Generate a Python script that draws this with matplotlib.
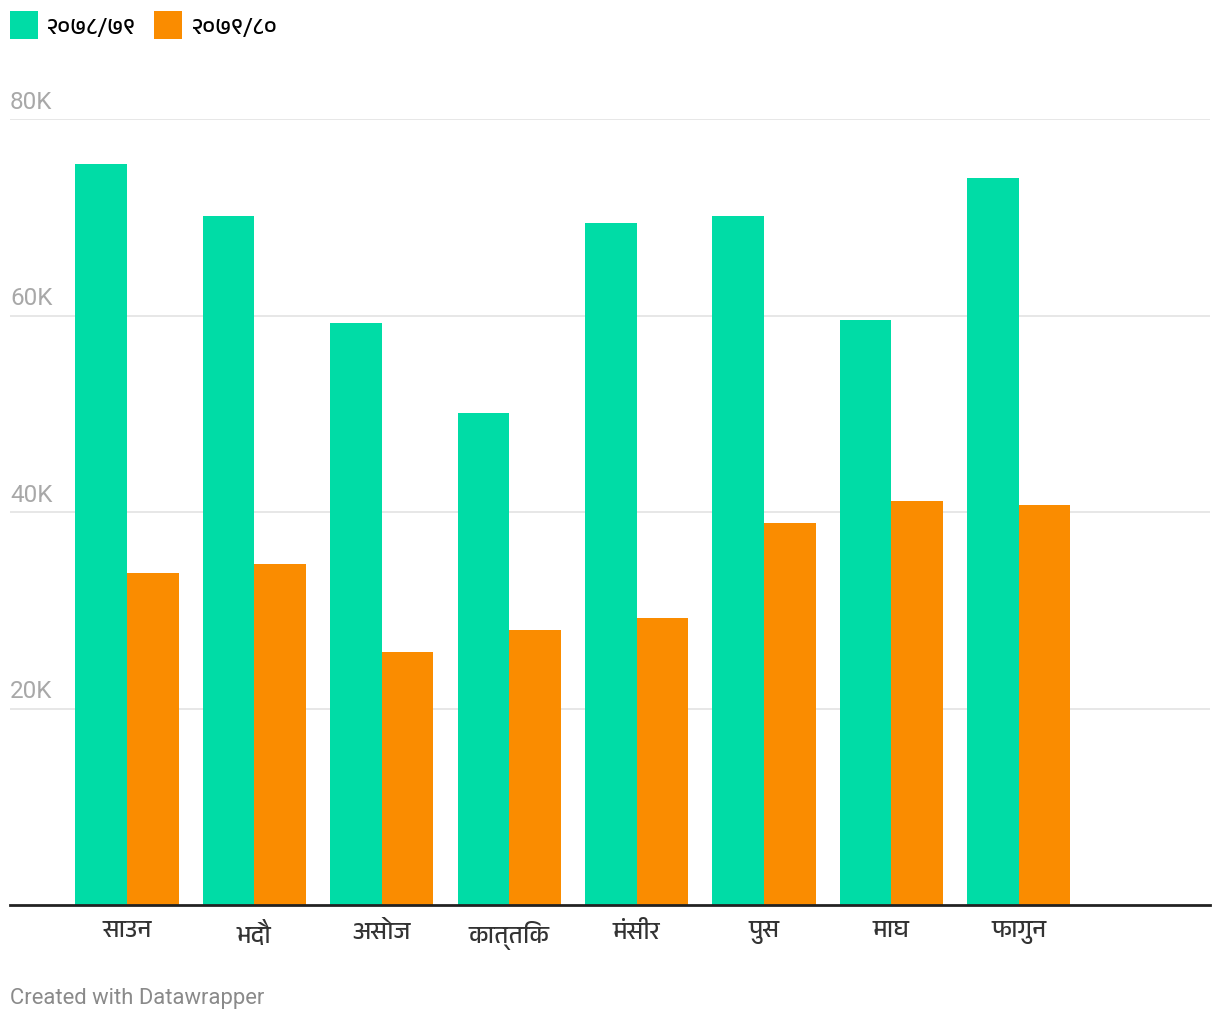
import matplotlib
matplotlib.use("Agg")
import matplotlib.pyplot as plt
from matplotlib import font_manager
from matplotlib.ft2font import FT2Font
import matplotlib.transforms as mtransforms
import numpy as np

months = ["साउन", "भदौ", "असोज", "कात्तिक", "मंसीर", "पुस", "माघ", "फागुन"]
series_names = ["२०७८/७९", "२०७९/८०"]
fy_7879 = [75400, 70100, 59200, 50100, 69400, 70100, 59500, 74000]
fy_7980 = [33800, 34700, 25750, 28000, 29200, 38900, 41100, 40700]
yticks = [20000, 40000, 60000, 80000]
ytick_labels = ["20K", "40K", "60K", "80K"]

colors = ["#00dca6", "#fa8c00"]

# find a font with Devanagari glyphs
deva_family = None
for f in font_manager.fontManager.ttflist:
    try:
        cm = FT2Font(f.fname).get_charmap()
        if 0x0915 in cm and 0x093E in cm:
            deva_family = f.name
            if "Devanagari" in f.name or "Noto" in f.name:
                break
    except Exception:
        pass

base = ["Roboto", "DejaVu Sans"]
deva = ([deva_family] if deva_family else []) + base
plt.rcParams["font.family"] = base

fig = plt.figure(figsize=(12.2, 10.2), dpi=100)
ax = fig.add_axes([10/1220, 1-906/1020, 1200/1220, (906-120)/1020])

x = np.arange(len(months))
w = 0.405
b1 = ax.bar(x - w/2, fy_7879, width=w, color=colors[0], label=series_names[0], zorder=2)
b2 = ax.bar(x + w/2, fy_7980, width=w, color=colors[1], label=series_names[1], zorder=2)

slot = 127.4
ax.set_xlim(-117/slot, (1210-127)/slot)
ax.set_ylim(0, 80000)

for s in ["top", "right", "left"]:
    ax.spines[s].set_visible(False)
ax.spines["bottom"].set_color("#222222")
ax.spines["bottom"].set_linewidth(2)
ax.spines["bottom"].set_zorder(3)

ax.set_yticks(yticks)
ax.set_yticklabels([])
ax.tick_params(axis="y", length=0)
ax.grid(axis="y", color="#e3e3e3", linewidth=1.2, zorder=0)
ytrans = mtransforms.offset_copy(ax.get_yaxis_transform(), fig=fig, x=0, y=6, units="dots")
for v, lab in zip(yticks, ytick_labels):
    ax.text(0, v, lab, transform=ytrans, ha="left", va="bottom",
            fontsize=17.5, color="#a8a8a8", fontfamily=base)

ax.set_xticks(x)
ax.set_xticklabels(months, fontsize=17.5, color="#333333", fontfamily=deva)
ax.tick_params(axis="x", length=0, pad=11)

fs_leg = 16.5
sq = 20.2 / fs_leg
leg = fig.legend(handles=[b1, b2], loc="upper left",
                 bbox_to_anchor=(10/1220, 1-12/1020),
                 ncol=2, frameon=False, prop={"family": deva, "size": fs_leg},
                 handlelength=sq, handleheight=(sq - 0.245) / 0.65, handletextpad=0.4,
                 columnspacing=0.8, borderaxespad=0, borderpad=0)

fig.text(10/1220, 1-999/1020, "Created with Datawrapper", ha="left", va="center",
         fontsize=15.8, color="#8a8a8a", fontfamily=base)

fig.savefig("out.png", dpi=100, facecolor="white")
